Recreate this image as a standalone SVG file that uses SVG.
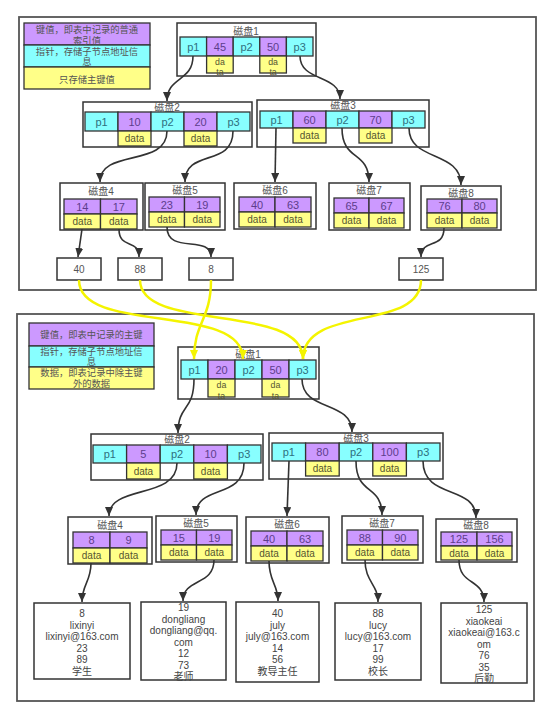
<svg xmlns="http://www.w3.org/2000/svg" width="554" height="719" viewBox="0 0 554 719">
<style>
text{font-family:"Liberation Sans","Noto Sans CJK SC",sans-serif;text-anchor:middle;}
.frame{fill:#fff;stroke:#555;stroke-width:1.8;}
.box{fill:#fff;stroke:#333;stroke-width:1.5;}
.pc{fill:#88ffff;stroke:#333;stroke-width:1.3;}
.kc{fill:#cc99ff;stroke:#333;stroke-width:1.3;}
.dc{fill:#ffff88;stroke:#333;stroke-width:1.3;}
.t{font-size:10px;fill:#555;}
.lg{font-size:9.3px;fill:#555;}
.pt{font-size:11px;fill:#2e6f7e;}
.kt{font-size:11px;fill:#5d3d8c;}
.dt{font-size:10px;fill:#555530;}
.dw{font-size:8.8px;fill:#555530;}
.rt{font-size:10px;fill:#444;}
.conn path{fill:none;stroke:#333;stroke-width:1.6;}
.yconn path{fill:none;stroke:#f4f400;stroke-width:2.5;}
</style>
<defs>
<marker id="ah" markerUnits="userSpaceOnUse" markerWidth="10" markerHeight="10" refX="9" refY="4" orient="auto"><path d="M0,0 L9,4 L0,8 z" fill="#333"/></marker>
<marker id="ay" markerUnits="userSpaceOnUse" markerWidth="10" markerHeight="10" refX="9" refY="4" orient="auto"><path d="M0,0 L9,4 L0,8 z" fill="#f4f400"/></marker>
</defs>
<rect width="554" height="719" fill="#fff"/>
<rect class="frame" x="19" y="17" width="517" height="273"/>
<rect class="frame" x="17" y="314" width="517" height="387"/>

<g id="legend-top">
<rect class="kc" x="24" y="23" width="126" height="22"/>
<rect class="pc" x="24" y="45" width="126" height="22"/>
<rect class="dc" x="24" y="67" width="126" height="22"/>
<text class="lg" x="87" y="33">键值，即表中记录的普通</text>
<text class="lg" x="87" y="44">索引值</text>
<text class="lg" x="87" y="54.5">指针，存储子节点地址信</text>
<text class="lg" x="87" y="65">息</text>
<text class="lg" x="87" y="83">只存储主键值</text>
</g>

<g id="t-disk1">
<rect class="box" x="177" y="23" width="139" height="53"/>
<text class="t" x="246" y="35">磁盘1</text>
<rect class="pc" x="180" y="37" width="26.6" height="19"/><text class="pt" x="193.3" y="50.5">p1</text>
<rect class="kc" x="206.6" y="37" width="26.6" height="19"/><text class="kt" x="219.9" y="50.5">45</text>
<rect class="pc" x="233.2" y="37" width="26.6" height="19"/><text class="pt" x="246.5" y="50.5">p2</text>
<rect class="kc" x="259.8" y="37" width="26.6" height="19"/><text class="kt" x="273.1" y="50.5">50</text>
<rect class="pc" x="286.4" y="37" width="26.6" height="19"/><text class="pt" x="299.7" y="50.5">p3</text>
<rect class="dc" x="206.6" y="56" width="26.6" height="17"/><text class="dw" x="219.9" y="64.5">da</text><text class="dw" x="219.9" y="74.5">ta</text>
<rect class="dc" x="259.8" y="56" width="26.6" height="17"/><text class="dw" x="273.1" y="64.5">da</text><text class="dw" x="273.1" y="74.5">ta</text>
</g>

<g id="t-disk2">
<rect class="box" x="83" y="102" width="169" height="45"/>
<text class="t" x="167" y="111">磁盘2</text>
<rect class="pc" x="85" y="112" width="33" height="19"/><text class="pt" x="101.5" y="125.5">p1</text>
<rect class="kc" x="118" y="112" width="33" height="19"/><text class="kt" x="134.5" y="125.5">10</text>
<rect class="pc" x="151" y="112" width="33" height="19"/><text class="pt" x="167.5" y="125.5">p2</text>
<rect class="kc" x="184" y="112" width="33" height="19"/><text class="kt" x="200.5" y="125.5">20</text>
<rect class="pc" x="217" y="112" width="33" height="19"/><text class="pt" x="233.5" y="125.5">p3</text>
<rect class="dc" x="118" y="131" width="33" height="15"/><text class="dt" x="134.5" y="142">data</text>
<rect class="dc" x="184" y="131" width="33" height="15"/><text class="dt" x="200.5" y="142">data</text>
</g>

<g id="t-disk3">
<rect class="box" x="257" y="100" width="172" height="47"/>
<text class="t" x="343" y="109">磁盘3</text>
<rect class="pc" x="260" y="111" width="33" height="17"/><text class="pt" x="276.5" y="123.5">p1</text>
<rect class="kc" x="293" y="111" width="33" height="17"/><text class="kt" x="309.5" y="123.5">60</text>
<rect class="pc" x="326" y="111" width="33" height="17"/><text class="pt" x="342.5" y="123.5">p2</text>
<rect class="kc" x="359" y="111" width="33" height="17"/><text class="kt" x="375.5" y="123.5">70</text>
<rect class="pc" x="392" y="111" width="33" height="17"/><text class="pt" x="408.5" y="123.5">p3</text>
<rect class="dc" x="293" y="128" width="33" height="15"/><text class="dt" x="309.5" y="139">data</text>
<rect class="dc" x="359" y="128" width="33" height="15"/><text class="dt" x="375.5" y="139">data</text>
</g>

<g id="t-disk4">
<rect class="box" x="60" y="183" width="83" height="47"/>
<text class="t" x="101" y="195">磁盘4</text>
<rect class="kc" x="64" y="199" width="36.5" height="15"/><text class="kt" x="82.3" y="210.5">14</text>
<rect class="kc" x="100.5" y="199" width="36.5" height="15"/><text class="kt" x="118.8" y="210.5">17</text>
<rect class="dc" x="64" y="214" width="36.5" height="15"/><text class="dt" x="82.3" y="225">data</text>
<rect class="dc" x="100.5" y="214" width="36.5" height="15"/><text class="dt" x="118.8" y="225">data</text>
</g>

<g id="t-disk5">
<rect class="box" x="145" y="183" width="80" height="47"/>
<text class="t" x="185" y="194">磁盘5</text>
<rect class="kc" x="149" y="197" width="35.5" height="15"/><text class="kt" x="166.8" y="208.5">23</text>
<rect class="kc" x="184.5" y="197" width="35.5" height="15"/><text class="kt" x="202.3" y="208.5">19</text>
<rect class="dc" x="149" y="212" width="35.5" height="15"/><text class="dt" x="166.8" y="223">data</text>
<rect class="dc" x="184.5" y="212" width="35.5" height="15"/><text class="dt" x="202.3" y="223">data</text>
</g>

<g id="t-disk6">
<rect class="box" x="234" y="183" width="82" height="46"/>
<text class="t" x="275" y="194">磁盘6</text>
<rect class="kc" x="239" y="197" width="36" height="15"/><text class="kt" x="257" y="208.5">40</text>
<rect class="kc" x="275" y="197" width="36" height="15"/><text class="kt" x="293" y="208.5">63</text>
<rect class="dc" x="239" y="212" width="36" height="15"/><text class="dt" x="257" y="223">data</text>
<rect class="dc" x="275" y="212" width="36" height="15"/><text class="dt" x="293" y="223">data</text>
</g>

<g id="t-disk7">
<rect class="box" x="329" y="183" width="81" height="47"/>
<text class="t" x="369" y="194">磁盘7</text>
<rect class="kc" x="334" y="198" width="35" height="15"/><text class="kt" x="351.5" y="209.5">65</text>
<rect class="kc" x="369" y="198" width="35" height="15"/><text class="kt" x="386.5" y="209.5">67</text>
<rect class="dc" x="334" y="213" width="35" height="15"/><text class="dt" x="351.5" y="224">data</text>
<rect class="dc" x="369" y="213" width="35" height="15"/><text class="dt" x="386.5" y="224">data</text>
</g>

<g id="t-disk8">
<rect class="box" x="421" y="186" width="80" height="44"/>
<text class="t" x="461" y="197">磁盘8</text>
<rect class="kc" x="427" y="199" width="35" height="14"/><text class="kt" x="444.5" y="210">76</text>
<rect class="kc" x="462" y="199" width="35" height="14"/><text class="kt" x="479.5" y="210">80</text>
<rect class="dc" x="427" y="213" width="35" height="15"/><text class="dt" x="444.5" y="224">data</text>
<rect class="dc" x="462" y="213" width="35" height="15"/><text class="dt" x="479.5" y="224">data</text>
</g>

<g id="leaf-40"><rect class="box" x="57" y="258" width="44" height="22"/><text class="t" x="79" y="273">40</text></g>
<g id="leaf-88"><rect class="box" x="118" y="258" width="44" height="22"/><text class="t" x="140" y="273">88</text></g>
<g id="leaf-8"><rect class="box" x="189" y="258" width="44" height="22"/><text class="t" x="211" y="273">8</text></g>
<g id="leaf-125"><rect class="box" x="399" y="258" width="44" height="22"/><text class="t" x="421" y="273">125</text></g>

<g id="legend-bottom">
<rect class="kc" x="29" y="323" width="125" height="23"/>
<rect class="pc" x="29" y="346" width="125" height="21"/>
<rect class="dc" x="29" y="367" width="125" height="22"/>
<text class="lg" x="91.5" y="338">键值，即表中记录的主键</text>
<text class="lg" x="91.5" y="354.5">指针，存储子节点地址信</text>
<text class="lg" x="91.5" y="365">息</text>
<text class="lg" x="91.5" y="376">数据，即表记录中除主键</text>
<text class="lg" x="91.5" y="387">外的数据</text>
</g>

<g id="b-disk1">
<rect class="box" x="178" y="347" width="141" height="52"/>
<text class="t" x="248" y="358">磁盘1</text>
<rect class="pc" x="181" y="360" width="27" height="19"/><text class="pt" x="194.5" y="373.5">p1</text>
<rect class="kc" x="208" y="360" width="27" height="19"/><text class="kt" x="221.5" y="373.5">20</text>
<rect class="pc" x="235" y="360" width="27" height="19"/><text class="pt" x="248.5" y="373.5">p2</text>
<rect class="kc" x="262" y="360" width="27" height="19"/><text class="kt" x="275.5" y="373.5">50</text>
<rect class="pc" x="289" y="360" width="27" height="19"/><text class="pt" x="302.5" y="373.5">p3</text>
<rect class="dc" x="208" y="379" width="27" height="18"/><text class="dw" x="221.5" y="388">da</text><text class="dw" x="221.5" y="398.5">ta</text>
<rect class="dc" x="262" y="379" width="27" height="18"/><text class="dw" x="275.5" y="388">da</text><text class="dw" x="275.5" y="398.5">ta</text>
</g>

<g id="b-disk2">
<rect class="box" x="91" y="434" width="172" height="46"/>
<text class="t" x="177" y="443">磁盘2</text>
<rect class="pc" x="93" y="445" width="33.6" height="18"/><text class="pt" x="109.8" y="458">p1</text>
<rect class="kc" x="126.6" y="445" width="33.6" height="18"/><text class="kt" x="143.4" y="458">5</text>
<rect class="pc" x="160.2" y="445" width="33.6" height="18"/><text class="pt" x="177" y="458">p2</text>
<rect class="kc" x="193.8" y="445" width="33.6" height="18"/><text class="kt" x="210.6" y="458">10</text>
<rect class="pc" x="227.4" y="445" width="33.6" height="18"/><text class="pt" x="244.2" y="458">p3</text>
<rect class="dc" x="126.6" y="463" width="33.6" height="16"/><text class="dt" x="143.4" y="474.5">data</text>
<rect class="dc" x="193.8" y="463" width="33.6" height="16"/><text class="dt" x="210.6" y="474.5">data</text>
</g>

<g id="b-disk3">
<rect class="box" x="269" y="433" width="174" height="46"/>
<text class="t" x="356" y="442">磁盘3</text>
<rect class="pc" x="272" y="443" width="33.6" height="18"/><text class="pt" x="288.8" y="456">p1</text>
<rect class="kc" x="305.6" y="443" width="33.6" height="18"/><text class="kt" x="322.4" y="456">80</text>
<rect class="pc" x="339.2" y="443" width="33.6" height="18"/><text class="pt" x="356" y="456">p2</text>
<rect class="kc" x="372.8" y="443" width="33.6" height="18"/><text class="kt" x="389.6" y="456">100</text>
<rect class="pc" x="406.4" y="443" width="33.6" height="18"/><text class="pt" x="423.2" y="456">p3</text>
<rect class="dc" x="305.6" y="461" width="33.6" height="15"/><text class="dt" x="322.4" y="472">data</text>
<rect class="dc" x="372.8" y="461" width="33.6" height="15"/><text class="dt" x="389.6" y="472">data</text>
</g>

<g id="b-disk4">
<rect class="box" x="68" y="517" width="84" height="47"/>
<text class="t" x="110" y="529">磁盘4</text>
<rect class="kc" x="73" y="532" width="37" height="16"/><text class="kt" x="91.5" y="544">8</text>
<rect class="kc" x="110" y="532" width="37" height="16"/><text class="kt" x="128.5" y="544">9</text>
<rect class="dc" x="73" y="548" width="37" height="15"/><text class="dt" x="91.5" y="559">data</text>
<rect class="dc" x="110" y="548" width="37" height="15"/><text class="dt" x="128.5" y="559">data</text>
</g>

<g id="b-disk5">
<rect class="box" x="156" y="516" width="81" height="46"/>
<text class="t" x="196" y="527">磁盘5</text>
<rect class="kc" x="161" y="530" width="35.5" height="15"/><text class="kt" x="178.8" y="541.5">15</text>
<rect class="kc" x="196.5" y="530" width="35.5" height="15"/><text class="kt" x="214.3" y="541.5">19</text>
<rect class="dc" x="161" y="545" width="35.5" height="15"/><text class="dt" x="178.8" y="556">data</text>
<rect class="dc" x="196.5" y="545" width="35.5" height="15"/><text class="dt" x="214.3" y="556">data</text>
</g>

<g id="b-disk6">
<rect class="box" x="246" y="517" width="83" height="46"/>
<text class="t" x="287" y="528">磁盘6</text>
<rect class="kc" x="251" y="531" width="36" height="15"/><text class="kt" x="269" y="542.5">40</text>
<rect class="kc" x="287" y="531" width="36" height="15"/><text class="kt" x="305" y="542.5">63</text>
<rect class="dc" x="251" y="546" width="36" height="15"/><text class="dt" x="269" y="557">data</text>
<rect class="dc" x="287" y="546" width="36" height="15"/><text class="dt" x="305" y="557">data</text>
</g>

<g id="b-disk7">
<rect class="box" x="342" y="516" width="81" height="47"/>
<text class="t" x="382" y="527">磁盘7</text>
<rect class="kc" x="347" y="530" width="35.5" height="15"/><text class="kt" x="364.8" y="541.5">88</text>
<rect class="kc" x="382.5" y="530" width="35.5" height="15"/><text class="kt" x="400.3" y="541.5">90</text>
<rect class="dc" x="347" y="545" width="35.5" height="15"/><text class="dt" x="364.8" y="556">data</text>
<rect class="dc" x="382.5" y="545" width="35.5" height="15"/><text class="dt" x="400.3" y="556">data</text>
</g>

<g id="b-disk8">
<rect class="box" x="436" y="519" width="81" height="43"/>
<text class="t" x="476" y="529">磁盘8</text>
<rect class="kc" x="441" y="532" width="36" height="14"/><text class="kt" x="459" y="543">125</text>
<rect class="kc" x="477" y="532" width="35" height="14"/><text class="kt" x="494.5" y="543">156</text>
<rect class="dc" x="441" y="546" width="36" height="14"/><text class="dt" x="459" y="556.5">data</text>
<rect class="dc" x="477" y="546" width="35" height="14"/><text class="dt" x="494.5" y="556.5">data</text>
</g>

<g id="rec-8">
<rect class="box" x="34" y="603" width="96" height="76"/>
<text class="rt" x="82" y="617">8</text>
<text class="rt" x="82" y="628.5">lixinyi</text>
<text class="rt" x="82" y="640">lixinyi@163.com</text>
<text class="rt" x="82" y="651.5">23</text>
<text class="rt" x="82" y="663">89</text>
<text class="rt" x="82" y="674.5">学生</text>
</g>
<g id="rec-19">
<rect class="box" x="141" y="602" width="85" height="78"/>
<text class="rt" x="183.5" y="611">19</text>
<text class="rt" x="183.5" y="622.5">dongliang</text>
<text class="rt" x="183.5" y="634">dongliang@qq.</text>
<text class="rt" x="183.5" y="645.5">com</text>
<text class="rt" x="183.5" y="657">12</text>
<text class="rt" x="183.5" y="668.5">73</text>
<text class="rt" x="183.5" y="680">老师</text>
</g>
<g id="rec-40">
<rect class="box" x="236" y="602" width="83" height="80"/>
<text class="rt" x="277.5" y="617">40</text>
<text class="rt" x="277.5" y="628.5">july</text>
<text class="rt" x="277.5" y="640">july@163.com</text>
<text class="rt" x="277.5" y="651.5">14</text>
<text class="rt" x="277.5" y="663">56</text>
<text class="rt" x="277.5" y="674.5">教导主任</text>
</g>
<g id="rec-88">
<rect class="box" x="335" y="603" width="86" height="77"/>
<text class="rt" x="378" y="617">88</text>
<text class="rt" x="378" y="628.5">lucy</text>
<text class="rt" x="378" y="640">lucy@163.com</text>
<text class="rt" x="378" y="651.5">17</text>
<text class="rt" x="378" y="663">99</text>
<text class="rt" x="378" y="674.5">校长</text>
</g>
<g id="rec-125">
<rect class="box" x="441" y="603" width="86" height="80"/>
<text class="rt" x="484" y="613">125</text>
<text class="rt" x="484" y="624.5">xiaokeai</text>
<text class="rt" x="484" y="636">xiaokeai@163.c</text>
<text class="rt" x="484" y="647.5">om</text>
<text class="rt" x="484" y="659">76</text>
<text class="rt" x="484" y="670.5">35</text>
<text class="rt" x="484" y="682">后勤</text>
</g>

<g id="connectors" class="conn">
<path d="M193,56 C193,82 167,76 167,101" marker-end="url(#ah)"/>
<path d="M300,56 C300,82 340,74 340,99" marker-end="url(#ah)"/>
<path d="M167,131 C167,168 100,148 100,182" marker-end="url(#ah)"/>
<path d="M233,131 C233,168 185,148 185,182" marker-end="url(#ah)"/>
<path d="M276,128 L275,182" marker-end="url(#ah)"/>
<path d="M342,128 C342,162 369,150 369,182" marker-end="url(#ah)"/>
<path d="M409,128 C409,162 461,150 461,185" marker-end="url(#ah)"/>
<path d="M82,229 L78,257" marker-end="url(#ah)"/>
<path d="M119,229 C119,250 139,238 139,257" marker-end="url(#ah)"/>
<path d="M167,227 C167,255 211,234 211,257" marker-end="url(#ah)"/>
<path d="M444,228 C444,250 421,238 421,257" marker-end="url(#ah)"/>
<path d="M194,379 C194,412 178,404 178,433" marker-end="url(#ah)"/>
<path d="M302,379 C302,412 352,400 352,432" marker-end="url(#ah)"/>
<path d="M177,463 C177,500 109,484 109,516" marker-end="url(#ah)"/>
<path d="M244,463 C244,500 196,484 196,515" marker-end="url(#ah)"/>
<path d="M289,461 L287,516" marker-end="url(#ah)"/>
<path d="M356,461 C356,496 382,484 382,515" marker-end="url(#ah)"/>
<path d="M423,461 C423,500 476,484 476,518" marker-end="url(#ah)"/>
<path d="M91,563 C91,582 82,584 82,602" marker-end="url(#ah)"/>
<path d="M214,560 C214,586 183,578 183,601" marker-end="url(#ah)"/>
<path d="M269,561 C269,582 278,584 278,601" marker-end="url(#ah)"/>
<path d="M365,560 C365,582 378,584 378,602" marker-end="url(#ah)"/>
<path d="M459,560 C459,586 484,578 484,602" marker-end="url(#ah)"/>
</g>
<g id="yellow-connectors" class="yconn">
<path d="M79,280 C79,335 243,302 243,359" marker-end="url(#ay)"/>
<path d="M140,280 C140,333 303,302 303,359" marker-end="url(#ay)"/>
<path d="M211,280 C211,320 194,322 194,359" marker-end="url(#ay)"/>
<path d="M421,280 C421,332 303,304 303,359" marker-end="url(#ay)"/>
</g>
</svg>
